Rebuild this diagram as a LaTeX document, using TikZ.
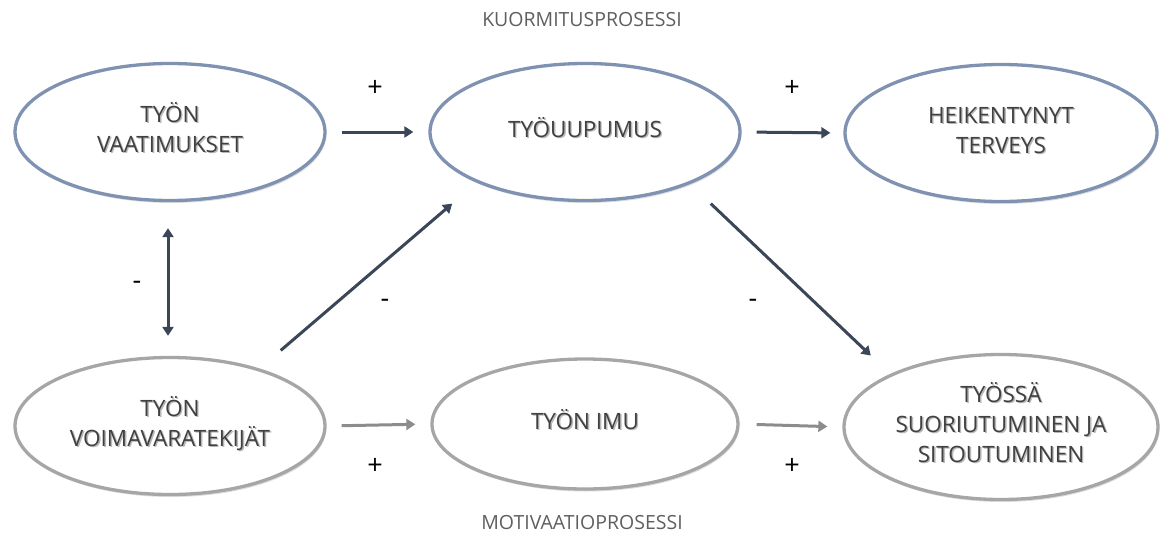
\documentclass[tikz,border=0pt]{standalone}
\usepackage{fontspec}
\setmainfont{Open Sans}
\usetikzlibrary{arrows.meta,shapes.geometric,shadows}

\definecolor{bluerim}{RGB}{128,146,178}
\definecolor{grayrim}{RGB}{166,166,166}
\definecolor{darkarrow}{RGB}{59,70,88}
\definecolor{grayarrow}{RGB}{140,140,140}
\definecolor{boxtext}{RGB}{64,64,64}
\definecolor{headtext}{RGB}{95,95,95}

% text with a soft offset shadow underneath
\newcommand\shtxt[1]{\setbox0=\hbox{\begin{tabular}{@{}c@{}}#1\end{tabular}}%
  \makebox[0pt][l]{\kern1.4pt\raisebox{-1.8pt}{\textcolor{black!28}{\copy0}}}\box0}

\tikzset{
  phase/.style={ellipse, draw, line width=3.3pt, fill=white, inner sep=0pt,
    minimum width=310pt, minimum height=137pt, text=boxtext,
    font=\fontsize{22.5}{30}\selectfont,
    drop shadow={shadow xshift=1.2pt, shadow yshift=-2.5pt, opacity=0.22, fill=black!60}},
  strain/.style={phase, draw=bluerim},
  motiv/.style={phase, draw=grayrim},
  darrow/.style={draw=darkarrow, line width=3pt,
    -{Triangle[length=9pt,width=11pt]}},
  garrow/.style={draw=grayarrow, line width=3pt,
    -{Triangle[length=9pt,width=11pt]}},
  sign/.style={font=\fontsize{27}{27}\selectfont, text=black, inner sep=0pt},
  heading/.style={font=\fontsize{19.5}{22}\selectfont, text=headtext, inner sep=0pt}
}

\begin{document}
\begin{tikzpicture}[x=1pt,y=-1pt]
\useasboundingbox (0,0) rectangle (1160,544);

% stress process (top row)
\node[strain] (vaat) at (170,132) {\shtxt{TYÖN\\VAATIMUKSET}};
\node[strain] (uup)  at (585,132) {\shtxt{TYÖUUPUMUS}};
\node[strain, minimum width=312pt] (terv) at (1001,133) {\shtxt{HEIKENTYNYT\\TERVEYS}};

% motivation process (bottom row)
\node[motiv] (voima) at (170,426) {\shtxt{TYÖN\\VOIMAVARATEKIJÄT}};
\node[motiv, minimum width=306pt, minimum height=130pt] (imu) at (585,424) {\shtxt{TYÖN IMU}};
\node[motiv, minimum width=314pt, minimum height=145pt] (sit) at (1001,427)
  {\shtxt{TYÖSSÄ\\SUORIUTUMINEN JA\\SITOUTUMINEN}};

% headings
\node[heading] (hk) at (582,20) {KUORMITUSPROSESSI};
\node[heading] (hm) at (582,523) {MOTIVAATIOPROSESSI};

% connectors
\draw[darrow, shorten <=15pt, shorten >=15pt] (vaat.east) -- (uup.west);
\draw[darrow, shorten <=15pt, shorten >=13pt] (uup.east) -- (terv.west);
\draw[darrow, {Triangle[length=9pt,width=11pt]}-{Triangle[length=9pt,width=11pt]},
      shorten <=26pt, shorten >=20pt] ([xshift=-2pt]vaat.south) -- ([xshift=-2pt]voima.north);
\draw[darrow] ([yshift=26pt]voima.north east) -- ([shift={(-22pt,-22pt)}]uup.south west);
\draw[darrow] ([shift={(15pt,-22pt)}]uup.south east) -- ([shift={(-18pt,19pt)}]sit.north west);
\draw[garrow, shorten <=15pt, shorten >=15pt] (voima.east) -- (imu.west);
\draw[garrow, shorten <=17pt, shorten >=15pt] (imu.east) -- (sit.west);

% signs
\node[sign] (p1) at (375,88) {+};
\node[sign] (p2) at (792,88) {+};
\node[sign] (p3) at (375,466) {+};
\node[sign] (p4) at (792,466) {+};
\node[sign] (m1) at (137,285) {-};
\node[sign] (m2) at (385,303) {-};
\node[sign] (m3) at (753,303) {-};
\end{tikzpicture}
\end{document}
